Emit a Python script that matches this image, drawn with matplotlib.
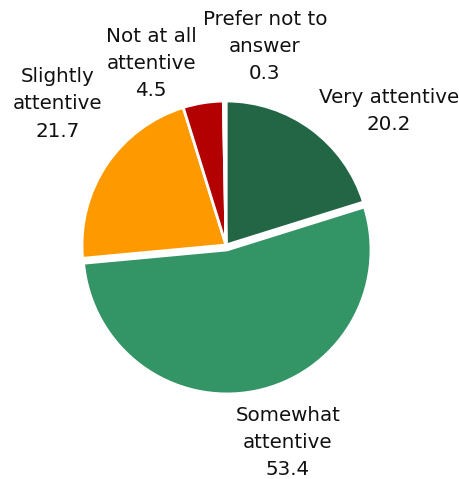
import matplotlib.pyplot as plt

# survey shares, clockwise from 12 o'clock
labels = ["Very attentive", "Somewhat\nattentive", "Slightly\nattentive",
          "Not at all\nattentive", "Prefer not to\nanswer"]
values = [20.2, 53.4, 21.7, 4.5, 0.3]
colors = ["#226645", "#339466", "#ff9900", "#b30000", "#555555"]
explode = [0, 0.035, 0, 0, 0]

# label anchor points in pie units (radius = 1)
label_pos = [(1.13, 0.93), (0.43, -1.37), (-1.17, 0.98),
             (-0.52, 1.26), (0.27, 1.38)]

W, H, dpi = 460, 479, 100
R = 144.0            # pie radius in pixels
cx, cy = 226, 234    # pie centre in pixels from bottom-left

fig = plt.figure(figsize=(W / dpi, H / dpi), dpi=dpi)
ax = fig.add_axes([0, 0, 1, 1])
ax.axis("off")

ax.pie(values, colors=colors, explode=explode, startangle=90,
       counterclock=False, radius=1,
       wedgeprops=dict(edgecolor="white", linewidth=2))
ax.set_aspect("equal")
ax.set_xlim(-cx / R, (W - cx) / R)
ax.set_ylim(-cy / R, (H - cy) / R)

for lab, val, (x, y) in zip(labels, values, label_pos):
    ax.text(x, y, f"{lab}\n{val}", ha="center", va="center",
            fontsize=14.3, linespacing=1.55, color="#111111")

fig.savefig("out.png", dpi=dpi)
